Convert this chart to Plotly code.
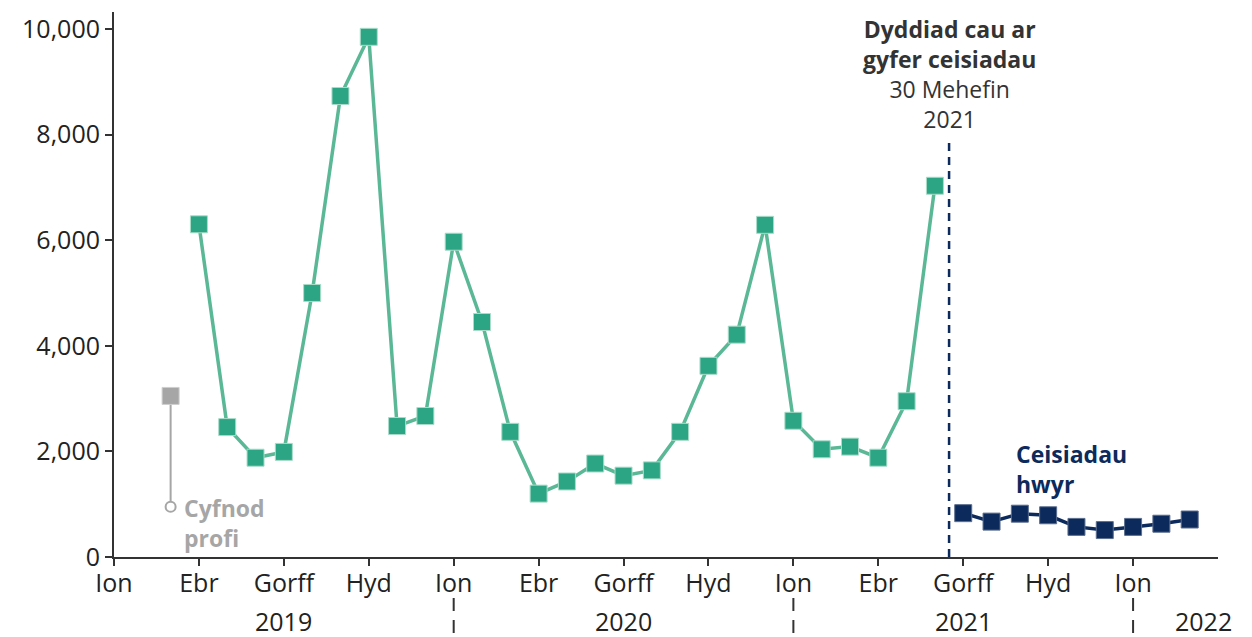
import plotly.graph_objects as go

# ---- data ----
months = [f"{y}-{m:02d}" for y in (2019, 2020, 2021, 2022) for m in range(1, 13)][:40]
idx = {m: i for i, m in enumerate(months)}

test_month = "2019-03"
test_value = 3050
test_base = 950

main_months = months[idx["2019-04"]:idx["2021-06"] + 1]
main_values = [6300, 2460, 1880, 1990, 5000, 8730, 9850, 2480, 2670,
               5970, 4450, 2370, 1200, 1430, 1770, 1540, 1640, 2370, 3620, 4210, 6290,
               2580, 2040, 2090, 1880, 2950, 7030]

late_months = months[idx["2021-07"]:idx["2022-03"] + 1]
late_values = [830, 670, 820, 790, 570, 510, 570, 630, 710]

tick_months = months[0:39:3]
tick_names = ["Ion", "Ebr", "Gorff", "Hyd"]
tick_text = [tick_names[i % 4] for i in range(len(tick_months))]

year_labels = ["2019", "2020", "2021", "2022"]
year_label_pos = [6, 18, 30, 38.5]
year_separators = [12, 24, 36]

deadline_pos = 29.5
deadline_top = 7900

GREEN_M = "#2ca584"
GREEN_L = "#5bb897"
NAVY = "#0c2a5b"
GREY = "#a6a6a6"
TXT = "#222222"
FONT = "Open Sans"
FS_TICK = 25
FS_ANN = 23

# page body adds an 8px offset; work in reference pixel coordinates
OFF = 8
W, H_FIG = 1252 - OFF, 637 - OFF
REF_L, REF_R, REF_T, REF_B = 113.5, 1218, 12, 557
PLOT_TOP, PLOT_BOT = REF_T - OFF, REF_B - OFF
PH = PLOT_BOT - PLOT_TOP


def py(p):
    return (PLOT_BOT - (p - OFF)) / PH


fig = go.Figure()

# grey test period stem
fig.add_trace(go.Scatter(x=[idx[test_month]] * 2, y=[test_base, test_value], mode="lines",
                         line=dict(color=GREY, width=2), hoverinfo="skip", showlegend=False))
fig.add_trace(go.Scatter(x=[idx[test_month]], y=[test_value], mode="markers",
                         marker=dict(symbol="square", size=17, color=GREY,
                                     line=dict(color="#cfcfcf", width=1)), showlegend=False))
fig.add_trace(go.Scatter(x=[idx[test_month]], y=[test_base], mode="markers",
                         marker=dict(symbol="circle", size=10, color="white",
                                     line=dict(color=GREY, width=2)), showlegend=False))

# main series
fig.add_trace(go.Scatter(x=[idx[m] for m in main_months], y=main_values, mode="lines+markers",
                         line=dict(color=GREEN_L, width=3.5),
                         marker=dict(symbol="square", size=17, color=GREEN_M,
                                     line=dict(color="#a9dcc9", width=1)), showlegend=False))

# late series
fig.add_trace(go.Scatter(x=[idx[m] for m in late_months], y=late_values, mode="lines+markers",
                         line=dict(color=NAVY, width=3.5),
                         marker=dict(symbol="square", size=17, color=NAVY,
                                     line=dict(color="#5d6f8f", width=1)), showlegend=False))

shapes = [dict(type="line", xref="x", yref="y", x0=deadline_pos, x1=deadline_pos,
               y0=0, y1=deadline_top, line=dict(color=NAVY, width=2.5, dash="8px,6px"), layer="below")]
for s in year_separators:
    shapes.append(dict(type="line", xref="x", yref="paper", x0=s, x1=s, y0=py(598), y1=py(640),
                       line=dict(color="#333333", width=2, dash="13px,9px")))

annotations = []
for lab, pos in zip(year_labels, year_label_pos):
    annotations.append(dict(x=pos, y=py(621), xref="x", yref="paper", text=lab, showarrow=False,
                            xanchor="center", yanchor="middle",
                            font=dict(family=FONT, size=FS_TICK, color=TXT)))

annotations.append(dict(x=deadline_pos, y=py(74), xref="x", yref="paper",
                        text="<b>Dyddiad cau ar</b><br><b>gyfer ceisiadau</b><br>30 Mehefin<br>2021",
                        showarrow=False, xanchor="center", yanchor="middle", align="center",
                        font=dict(family=FONT, size=FS_ANN, color="#333333")))

annotations.append(dict(x=2.4, y=py(523), xref="x", yref="paper", text="<b>Cyfnod</b><br><b>profi</b>",
                        showarrow=False, xanchor="left", yanchor="middle", align="left",
                        font=dict(family=FONT, size=FS_ANN, color=GREY)))

annotations.append(dict(x=31.8, y=py(469), xref="x", yref="paper", text="<b>Ceisiadau</b><br><b>hwyr</b>",
                        showarrow=False, xanchor="left", yanchor="middle", align="left",
                        font=dict(family=FONT, size=FS_ANN, color=NAVY)))

fig.update_layout(
    width=W, height=H_FIG,
    margin=dict(l=REF_L - OFF, r=1252 - REF_R, t=PLOT_TOP, b=H_FIG - PLOT_BOT, pad=0, autoexpand=False),
    plot_bgcolor="white", paper_bgcolor="white",
    font=dict(family=FONT, size=FS_TICK, color=TXT),
    shapes=shapes, annotations=annotations,
    xaxis=dict(range=[0, 39], tickmode="array", tickvals=[idx[m] for m in tick_months],
               ticktext=tick_text, ticks="outside", ticklen=7, tickwidth=2, tickcolor="#333333",
               ticklabelstandoff=-4,
               showline=True, linecolor="#333333", linewidth=2, showgrid=False, zeroline=False,
               tickfont=dict(family=FONT, size=FS_TICK, color=TXT)),
    yaxis=dict(range=[0, 10320], tickmode="array", tickvals=[0, 2000, 4000, 6000, 8000, 10000],
               tickformat=",", ticks="outside", ticklen=7, tickwidth=2, tickcolor="#333333",
               showline=True, linecolor="#333333", linewidth=2, showgrid=False, zeroline=False,
               tickfont=dict(family=FONT, size=FS_TICK, color=TXT)),
)

fig.write_html("out.html")
